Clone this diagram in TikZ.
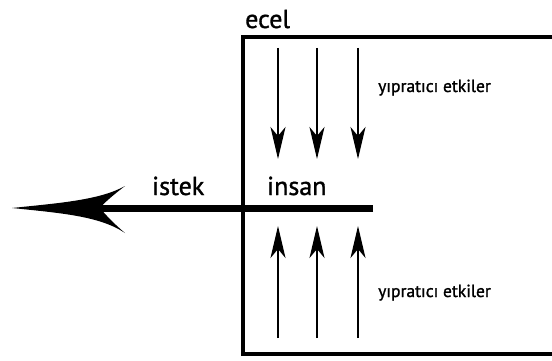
\documentclass[tikz,border=0pt]{standalone}
\usepackage{fontspec}
\setmainfont{PT Sans}
\newfontfamily\labfont[FakeBold=1.2]{PT Sans}
\usetikzlibrary{arrows.meta}
\begin{document}
\begin{tikzpicture}[x=1pt,y=-1pt,
  frame/.style={line width=4.5pt},
  force/.style={line width=2.4pt,-{Stealth[length=32pt,width=15pt,inset=9pt]}},
  big/.style={font=\labfont\fontsize{26}{30}\selectfont,inner sep=0pt,anchor=base west},
  small/.style={font=\labfont\fontsize{17.5}{20}\selectfont,inner sep=0pt,anchor=base west}]
\useasboundingbox (0,0) rectangle (552,361);
% frame
\draw[frame] (552,37) -- (243,37) -- (243,354) -- (552,354);
% labels
\node[big] (ecel) at (245,28) {ecel};
\node[big] (istek) at (152,195) {istek};
\node[big] (insan) at (267,195) {insan};
\node[small] (y1) at (378,92) {yıpratıcı etkiler};
\node[small] (y2) at (378,297) {yıpratıcı etkiler};
% down arrows
\foreach \i/\x in {1/278,2/317,3/358}{
  \coordinate (d\i s) at (\x,48);
  \coordinate (d\i e) at (\x,159);
  \draw[force] (d\i s) -- (d\i e);
  \coordinate (u\i s) at (\x,338);
  \coordinate (u\i e) at (\x,226);
  \draw[force] (u\i s) -- (u\i e);
}
% main line and arrow
\coordinate (lineR) at (373,208);
\coordinate (notch) at (100,208);
\coordinate (tip) at (12,208);
\draw[line width=7pt] (lineR) -- (notch);
\fill (tip) .. controls (60,203) and (100,200) .. (125,186)
  .. controls (112,196) and (104,203) .. (notch)
  .. controls (104,213) and (112,222) .. (125,233)
  .. controls (100,216) and (60,213) .. (tip) -- cycle;
\end{tikzpicture}
\end{document}
